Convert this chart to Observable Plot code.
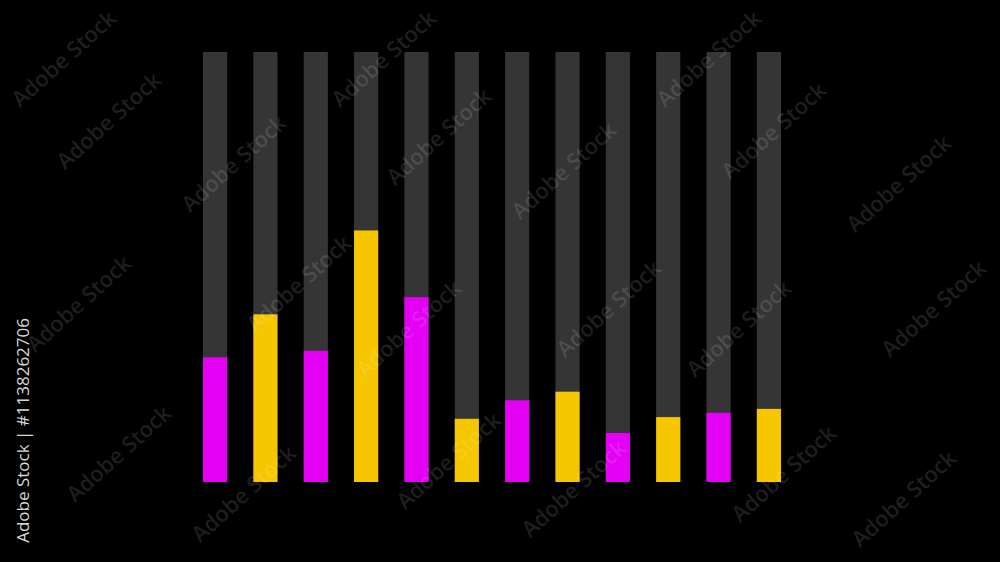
<!DOCTYPE html>
<html>
<head>
<meta charset="utf-8">
<script src="https://cdn.jsdelivr.net/npm/d3@7"></script>
<script src="https://cdn.jsdelivr.net/npm/@observablehq/plot@0.6"></script>
<style>
  html, body { margin: 0; padding: 0; background: #000; overflow: hidden; }
  #wrap { position: relative; width: 1000px; height: 562px; }
  #wm { position: absolute; left: 0; top: 0; pointer-events: none; }
</style>
</head>
<body>
<div id="wrap"></div>
<script>
const categories = ["1","2","3","4","5","6","7","8","9","10","11","12"];
const values = [0.29, 0.39, 0.305, 0.585, 0.43, 0.147, 0.19, 0.21, 0.114, 0.151, 0.161, 0.17];
const series = ["s1","s2","s1","s2","s1","s2","s1","s2","s1","s2","s1","s2"];
const trackMax = 1;

const data = categories.map((c, i) => ({cat: c, value: values[i], series: series[i]}));
const tracks = categories.map(c => ({cat: c, value: trackMax}));

const chart = Plot.plot({
  width: 1000,
  height: 562,
  marginLeft: 203,
  marginRight: 219,
  marginTop: 52,
  marginBottom: 80,
  style: {background: "#000"},
  x: {domain: categories, paddingInner: 0.52, paddingOuter: 0, round: false, axis: null},
  y: {domain: [0, trackMax], axis: null},
  color: {type: "ordinal", domain: ["s1", "s2"], range: ["#e300f4", "#f6c600"]},
  marks: [
    Plot.barY(tracks, {x: "cat", y: "value", fill: "#353535"}),
    Plot.barY(data, {x: "cat", y: "value", fill: "series"})
  ]
});
document.getElementById("wrap").appendChild(chart);

// watermark overlay
const wmSpots = [[65,60],[110,122],[235,165],[385,60],[440,138],[565,172],[710,60],[775,132],[900,185],
  [80,305],[300,285],[410,330],[610,310],[740,330],[935,310],[120,455],[245,495],[450,462],[575,490],[785,475],[905,500]];
const svg = d3.select("#wrap").append("svg").attr("id","wm").attr("width",1000).attr("height",562);
svg.selectAll("text.w").data(wmSpots).join("text")
  .attr("class","w")
  .attr("transform", d => `translate(${d[0]},${d[1]}) rotate(-42)`)
  .attr("text-anchor","middle")
  .attr("dominant-baseline","middle")
  .attr("font-family","'Open Sans', 'DejaVu Sans', sans-serif")
  .attr("font-weight","600")
  .attr("font-size",22)
  .attr("fill","#fff")
  .attr("fill-opacity",0.12)
  .text("Adobe Stock");
svg.append("text")
  .attr("transform","translate(29,318) rotate(-90)")
  .attr("text-anchor","end")
  .attr("font-family","'Open Sans', 'DejaVu Sans', sans-serif")
  .attr("font-size",17)
  .attr("fill","#d8d8d8")
  .text("Adobe Stock | #1138262706");
</script>
</body>
</html>
